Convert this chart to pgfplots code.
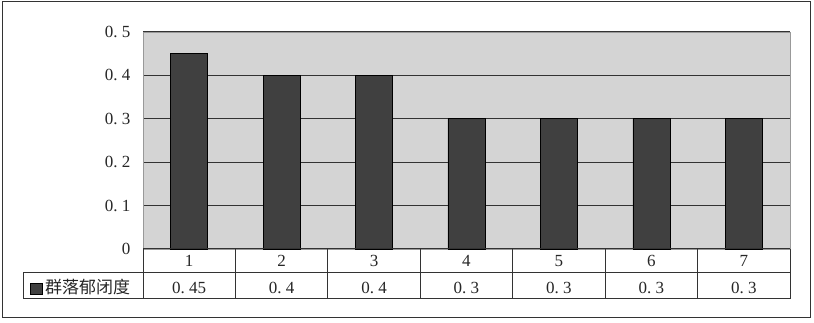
\documentclass[border=0pt]{standalone}
\usepackage{pgfplots}
\pgfplotsset{compat=1.18}
\usepackage{fontspec}
\setmainfont{Liberation Serif}
\newfontfamily\cjk{Noto Sans CJK SC}
\definecolor{plotbg}{HTML}{D4D4D4}
\definecolor{barc}{HTML}{404040}
\definecolor{linec}{HTML}{333333}
\begin{document}
\begin{tikzpicture}[x=1pt,y=1pt]
\path[use as bounding box] (0,0) rectangle (814,323);
\draw[line width=1pt, linec] (2,5) rectangle (810,321);
\begin{axis}[
  at={(143pt,74pt)}, anchor=south west,
  scale only axis, width=647pt, height=217pt,
  xmin=0.5, xmax=7.5, ymin=0, ymax=0.5,
  axis background/.style={fill=plotbg},
  ybar, bar width=37pt,
  ytick={0,0.1,0.2,0.3,0.4,0.5},
  yticklabels={0,0.\ 1,0.\ 2,0.\ 3,0.\ 4,0.\ 5},
  xtick={1,2,3,4,5,6,7},
  xticklabels={1,2,3,4,5,6,7},
  major tick length=0pt,
  ymajorgrids, major grid style={linec, line width=1pt},
  axis line style={draw=gray!80, line width=0.8pt},
  tick label style={font=\fontsize{17}{20}\selectfont, text=black!85},
  yticklabel style={anchor=east, xshift=-9pt},
  xticklabel style={anchor=center, yshift=-12pt},
  /pgf/number format/assume math mode=true,
  clip=false,
]
\addplot[fill=barc, draw=black, line width=0.6pt] coordinates {(1,0.45) (2,0.4) (3,0.4) (4,0.3) (5,0.3) (6,0.3) (7,0.3)};
\node[font=\fontsize{17}{20}\selectfont, text=black!85, anchor=center, yshift=-39pt] at (axis cs:1,0) {0.\ 45};
\node[font=\fontsize{17}{20}\selectfont, text=black!85, anchor=center, yshift=-39pt] at (axis cs:2,0) {0.\ 4};
\node[font=\fontsize{17}{20}\selectfont, text=black!85, anchor=center, yshift=-39pt] at (axis cs:3,0) {0.\ 4};
\node[font=\fontsize{17}{20}\selectfont, text=black!85, anchor=center, yshift=-39pt] at (axis cs:4,0) {0.\ 3};
\node[font=\fontsize{17}{20}\selectfont, text=black!85, anchor=center, yshift=-39pt] at (axis cs:5,0) {0.\ 3};
\node[font=\fontsize{17}{20}\selectfont, text=black!85, anchor=center, yshift=-39pt] at (axis cs:6,0) {0.\ 3};
\node[font=\fontsize{17}{20}\selectfont, text=black!85, anchor=center, yshift=-39pt] at (axis cs:7,0) {0.\ 3};
\end{axis}
% data table grid
\draw[linec, line width=1pt] (143,74) -- (790,74);
\draw[linec, line width=1pt] (23,50) -- (790,50);
\draw[linec, line width=1pt] (23,24) -- (790,24);
\draw[linec, line width=1pt] (23,24) -- (23,50);
\foreach \k in {0,...,7}{
  \draw[linec, line width=1pt] ({143+\k*92.4286},24) -- ({143+\k*92.4286},74);
}
% legend key
\draw[black, line width=0.6pt, fill=barc] (30,29) rectangle (42,40);
\node[anchor=west, inner sep=0pt, font=\cjk\fontsize{17}{20}\selectfont, text=black!85] at (45,36) {群落郁闭度};
\end{tikzpicture}
\end{document}
